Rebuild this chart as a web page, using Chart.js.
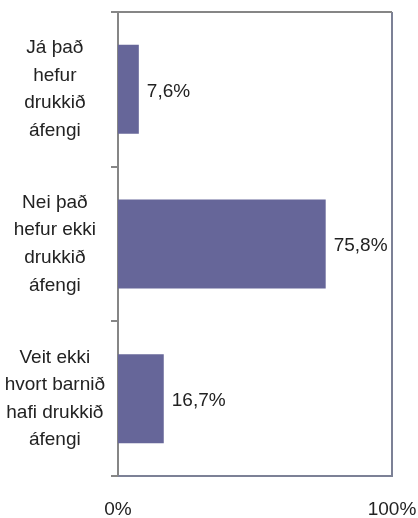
<!DOCTYPE html>
<html>
<head>
<meta charset="utf-8">
<script src="https://cdn.jsdelivr.net/npm/chart.js@4"></script>
<style>
  html, body { margin: 0; padding: 0; background: #fff; overflow: hidden; }
  canvas { display: block; }
</style>
</head>
<body>
<canvas id="chart" width="418" height="518"></canvas>
<script>
// Categories (multi-line labels) and values in percent
const categories = [
    ['Já það', 'hefur', 'drukkið', 'áfengi'],
    ['Nei það', 'hefur ekki', 'drukkið', 'áfengi'],
    ['Veit ekki', 'hvort barnið', 'hafi drukkið', 'áfengi']
];
const values = [7.6, 75.8, 16.7];
const xTicks = [0, 100];

const fontFamily = "'Liberation Sans Narrow', 'Arial Narrow', 'Liberation Sans', Arial, sans-serif";

// Draws the frame round the plot area
const frame = {
    id: 'frame',
    afterDraw(chart) {
        const { ctx, chartArea: a } = chart;
        ctx.save();
        ctx.lineWidth = 2;
        ctx.strokeStyle = '#7c8196';
        ctx.beginPath();
        ctx.moveTo(a.left, a.bottom);
        ctx.lineTo(a.right, a.bottom);
        ctx.lineTo(a.right, a.top);
        ctx.stroke();
        ctx.strokeStyle = '#868686';
        ctx.beginPath();
        ctx.moveTo(a.left, a.top);
        ctx.lineTo(a.right, a.top);
        ctx.stroke();
        ctx.restore();
    }
};

// Value labels next to the bars
const valueLabels = {
    id: 'valueLabels',
    afterDatasetsDraw(chart) {
        const { ctx } = chart;
        const meta = chart.getDatasetMeta(0);
        ctx.save();
        ctx.font = '19px ' + fontFamily;
        ctx.fillStyle = '#222';
        ctx.textAlign = 'left';
        ctx.textBaseline = 'middle';
        meta.data.forEach((bar, i) => {
            const txt = values[i].toFixed(1).replace('.', ',') + '%';
            ctx.fillText(txt, bar.x + 8, bar.y + 2);
        });
        ctx.restore();
    }
};

const ctx = document.getElementById('chart').getContext('2d');
const chart = new Chart(ctx, {
    type: 'bar',
    data: {
        labels: categories,
        datasets: [{
            data: values,
            backgroundColor: '#666699',
            borderWidth: 0,
            categoryPercentage: 1,
            barPercentage: 0.575
        }]
    },
    options: {
        indexAxis: 'y',
        responsive: false,
        animation: false,
        layout: { padding: { top: 12, right: 26, left: 0, bottom: 0 } },
        plugins: {
            legend: { display: false },
            tooltip: { enabled: false }
        },
        scales: {
            x: {
                min: 0,
                max: 100,
                afterBuildTicks: scale => { scale.ticks = xTicks.map(v => ({ value: v })); },
                grid: { display: false },
                border: { display: false },
                ticks: {
                    padding: 14,
                    maxRotation: 0,
                    color: '#222',
                    font: { family: fontFamily, size: 19 },
                    callback: v => v + '%'
                },
                afterFit: scale => {
                    scale.height = 42;
                    scale.paddingLeft = 0;
                    scale.paddingRight = 0;
                }
            },
            y: {
                grid: {
                    drawOnChartArea: false,
                    offset: true,
                    tickLength: 7,
                    color: '#868686',
                    lineWidth: 2
                },
                border: { display: true, color: '#868686', width: 2 },
                ticks: {
                    crossAlign: 'center',
                    padding: 6,
                    color: '#222',
                    font: { family: fontFamily, size: 19, lineHeight: 1.45 }
                },
                afterFit: scale => {
                    scale.width = 118;
                    scale.paddingTop = 0;
                    scale.paddingBottom = 0;
                }
            }
        }
    },
    plugins: [frame, valueLabels]
});
</script>
</body>
</html>
